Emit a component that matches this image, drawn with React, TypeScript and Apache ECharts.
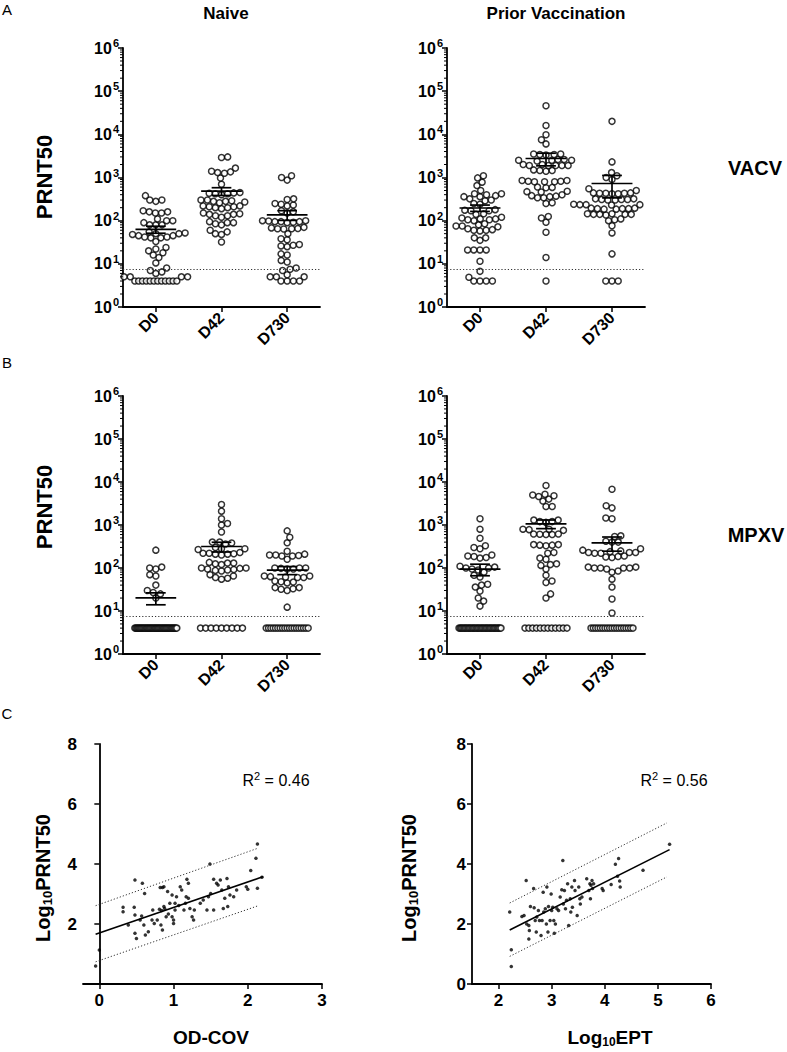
import React, { useEffect, useRef } from 'react';
import * as echarts from 'echarts';

const CATEGORIES = ['D0', 'D42', 'D730'];
const LOG_TICKS = [1, 10, 100, 1000, 10000, 100000, 1000000];
const LOD_VALUE = 7.4;

// Panel A – VACV PRNT50, naive
const vacvNaiveD0 = [380, 300, 280, 300, 170, 160, 160, 150, 150, 110, 100, 100, 90, 80, 80, 80, 55, 52, 50, 50, 48, 45, 42, 42, 40, 40, 45, 33, 24, 22, 20, 18, 16, 14, 10.5, 8, 7, 6, 6.5, 5, 5, 5, 5, 4, 4, 4, 4, 4, 4, 4, 4, 4, 4, 4, 4];
const vacvNaiveD42 = [3000, 2900, 1650, 1400, 1300, 1250, 1350, 970, 700, 450, 430, 420, 400, 420, 440, 300, 290, 280, 270, 280, 260, 300, 220, 210, 200, 200, 210, 190, 220, 150, 140, 130, 130, 140, 120, 145, 95, 90, 85, 90, 80, 60, 50, 48, 55, 32];
const vacvNaiveD730 = [1100, 1000, 870, 320, 310, 240, 230, 220, 250, 170, 160, 150, 100, 95, 95, 90, 100, 95, 92, 98, 68, 65, 65, 70, 66, 64, 50, 36, 38, 28, 26, 25, 27, 16, 17, 11, 12, 8, 7.5, 7, 5.6, 5, 5, 5, 4, 4, 4, 4];
// Panel A – VACV PRNT50, prior vaccination
const vacvPriorD0 = [1100, 980, 780, 650, 500, 420, 420, 400, 380, 360, 360, 320, 300, 290, 250, 240, 180, 175, 170, 170, 145, 140, 120, 110, 105, 100, 110, 105, 115, 80, 75, 75, 72, 85, 65, 60, 58, 62, 60, 40, 35, 40, 21, 21, 21, 21, 11.5, 6.7, 4.9, 4, 4, 4, 4];
const vacvPriorD42 = [46000, 16000, 9800, 7500, 6000, 3500, 3400, 3300, 3400, 3500, 2600, 2500, 2500, 2600, 2500, 2400, 2000, 1900, 1900, 1900, 1900, 2000, 1900, 1500, 1450, 1450, 1400, 850, 820, 800, 800, 800, 820, 850, 600, 590, 580, 480, 470, 460, 400, 360, 340, 340, 370, 380, 260, 250, 125, 115, 92, 54, 14, 4];
const vacvPriorD730 = [20000, 2300, 1300, 1100, 1000, 900, 500, 550, 440, 430, 420, 430, 440, 430, 420, 320, 310, 300, 310, 300, 310, 320, 240, 235, 230, 235, 240, 235, 195, 190, 185, 190, 190, 185, 195, 145, 140, 140, 135, 140, 140, 145, 110, 105, 100, 76, 52, 17, 4, 4, 4];
// Panel B – MPXV PRNT50, naive
const mpxvNaiveD0 = [260, 105, 95, 100, 65, 70, 40, 27, 30, 25, 20, 4, 4, 4, 4, 4, 4, 4, 4, 4, 4, 4, 4, 4, 4, 4, 4, 4, 4, 4, 4, 4, 4, 4, 4, 4, 4, 4, 4, 4, 4, 4, 4, 4, 4, 4, 4, 4, 4];
const mpxvNaiveD42 = [3000, 2100, 1400, 1080, 1000, 690, 400, 380, 360, 400, 300, 280, 280, 270, 220, 210, 215, 210, 230, 220, 200, 130, 125, 130, 120, 135, 100, 95, 90, 88, 85, 92, 98, 100, 70, 60, 55, 58, 65, 4, 4, 4, 4, 4, 4, 4, 4, 4];
const mpxvNaiveD730 = [730, 520, 385, 245, 200, 190, 200, 210, 190, 195, 160, 100, 95, 100, 98, 95, 100, 65, 60, 63, 62, 60, 65, 50, 47, 45, 48, 35, 32, 30, 33, 35, 12.3, 4, 4, 4, 4, 4, 4, 4, 4, 4, 4, 4, 4, 4, 4, 4, 4, 4, 4, 4];
// Panel B – MPXV PRNT50, prior vaccination
const mpxvPriorD0 = [1400, 800, 490, 330, 280, 300, 200, 185, 170, 175, 190, 110, 100, 95, 90, 100, 105, 80, 68, 62, 40, 36, 42, 29, 20, 17, 13, 4, 4, 4, 4, 4, 4, 4, 4, 4, 4, 4, 4, 4, 4, 4, 4, 4, 4, 4, 4, 4, 4, 4, 4, 4, 4, 4, 4, 4, 4, 4, 4, 4];
const mpxvPriorD42 = [8300, 5000, 4600, 3600, 4000, 4800, 5200, 2700, 2700, 1300, 1200, 1150, 1200, 1300, 800, 750, 800, 780, 620, 600, 600, 620, 610, 350, 340, 330, 340, 350, 230, 220, 170, 160, 120, 115, 125, 95, 68, 50, 46, 25, 20, 4, 4, 4, 4, 4, 4, 4, 4, 4, 4, 4, 4];
const mpxvPriorD730 = [6800, 2800, 2500, 1450, 1400, 560, 540, 400, 420, 400, 230, 230, 220, 240, 230, 220, 250, 280, 260, 180, 190, 175, 185, 105, 100, 95, 100, 100, 105, 100, 85, 80, 55, 36, 19, 9, 4, 4, 4, 4, 4, 4, 4, 4, 4, 4, 4, 4, 4, 4, 4, 4, 4, 4, 4];

// Panel C – correlations [x, log10 PRNT50]
const odcovPairs = [[-0.05, 0.6], [0, 1.13], [0.32, 2.56], [0.32, 2.41], [0.39, 1.97], [0.47, 2.56], [0.48, 3.47], [0.48, 2.3], [0.48, 1.69], [0.5, 1.52], [0.55, 2.13], [0.57, 2.27], [0.58, 3.36], [0.61, 3.02], [0.6, 1.97], [0.62, 1.63], [0.66, 1.74], [0.71, 2.13], [0.72, 2.47], [0.74, 2.02], [0.78, 2.13], [0.81, 2.49], [0.82, 3.22], [0.85, 3.22], [0.87, 3.24], [0.83, 1.97], [0.85, 1.8], [0.87, 2.58], [0.9, 2.24], [0.92, 3.08], [0.95, 2.69], [0.98, 2.97], [0.98, 2.24], [1.0, 2.13], [1.0, 2.02], [1.02, 2.69], [1.04, 2.91], [1.02, 2.47], [1.09, 3.24], [1.11, 3.13], [1.14, 2.47], [1.16, 2.69], [1.18, 3.49], [1.2, 3.36], [1.17, 2.91], [1.2, 2.86], [1.22, 2.52], [1.25, 2.24], [1.27, 2.13], [1.28, 2.47], [1.36, 2.69], [1.4, 2.8], [1.45, 2.47], [1.47, 2.91], [1.49, 4.0], [1.5, 3.02], [1.54, 3.49], [1.54, 2.47], [1.58, 3.36], [1.6, 3.3], [1.63, 3.47], [1.65, 3.13], [1.67, 2.52], [1.69, 2.86], [1.72, 3.52], [1.74, 3.24], [1.73, 2.58], [1.76, 2.97], [1.81, 2.91], [1.85, 3.13], [1.98, 3.24], [2.0, 3.16], [2.04, 3.78], [2.11, 4.19], [2.13, 4.67], [2.13, 3.19], [2.19, 3.56], [0.84, 2.45], [0.88, 2.52], [1.07, 2.62], [0.93, 2.33]];
const eptPairs = [[2.21, 2.4], [2.24, 1.14], [2.24, 0.58], [2.44, 2.25], [2.48, 2.28], [2.52, 3.45], [2.53, 2.0], [2.57, 1.95], [2.58, 1.78], [2.57, 1.5], [2.6, 2.58], [2.66, 3.18], [2.67, 2.54], [2.69, 2.12], [2.71, 1.73], [2.72, 2.23], [2.75, 2.45], [2.77, 2.12], [2.8, 1.62], [2.82, 2.12], [2.84, 3.06], [2.85, 2.4], [2.88, 2.51], [2.9, 2.0], [2.91, 3.23], [2.93, 1.73], [2.94, 2.58], [2.97, 2.12], [2.99, 3.0], [3.0, 2.45], [3.02, 2.56], [3.04, 2.12], [3.05, 1.69], [3.07, 2.0], [3.1, 2.51], [3.13, 2.45], [3.16, 2.9], [3.19, 3.14], [3.21, 4.12], [3.22, 2.67], [3.24, 3.12], [3.26, 2.51], [3.28, 2.79], [3.3, 3.34], [3.32, 1.95], [3.35, 2.84], [3.36, 2.4], [3.38, 3.23], [3.39, 2.56], [3.43, 3.45], [3.44, 3.12], [3.48, 2.28], [3.51, 3.23], [3.53, 2.84], [3.54, 2.67], [3.57, 2.9], [3.66, 3.51], [3.7, 3.12], [3.72, 3.34], [3.73, 2.84], [3.74, 3.29], [3.76, 3.45], [3.77, 3.18], [3.79, 3.34], [3.95, 3.18], [3.97, 3.12], [4.12, 3.32], [4.2, 3.99], [4.24, 3.59], [4.26, 4.18], [4.28, 3.43], [4.29, 3.23], [4.72, 3.79], [5.22, 4.66]];
const odcovFit = [[-0.05, 1.66], [2.21, 3.58]];
const odcovUpper = [[-0.05, 2.61], [2.13, 4.52]];
const odcovLower = [[-0.05, 0.74], [2.13, 2.6]];
const eptFit = [[2.21, 1.8], [5.22, 4.48]];
const eptUpper = [[2.21, 2.7], [5.17, 5.37]];
const eptLower = [[2.21, 0.92], [5.17, 3.57]];
const R2_ODCOV = '0.46';
const R2_EPT = '0.56';

const FONT = "'Liberation Sans', Arial, Helvetica, sans-serif";

const MINOR_TICKS: number[] = [];
for (let e = 0; e < 6; e++) for (let k = 2; k <= 9; k++) MINOR_TICKS.push(k * Math.pow(10, e));

function meanSem(arr: number[]) {
  const n = arr.length;
  const m = arr.reduce((a, b) => a + b, 0) / n;
  const sd = Math.sqrt(arr.reduce((a, b) => a + (b - m) * (b - m), 0) / (n - 1));
  return [m, sd / Math.sqrt(n)];
}

function swarm(values: number[], pxCat: number, pxDec: number, d: number, maxHalf: number) {
  const sorted = [...values].sort((a, b) => a - b);
  const placed: { x: number; y: number }[] = [];
  const out: number[][] = [];
  let toggle = 1;
  let i = 0;
  while (i < sorted.length) {
    let j = i;
    while (j < sorted.length && sorted[j] === sorted[i]) j++;
    const n = j - i;
    const v = sorted[i];
    const y = Math.log10(v) * pxDec;
    if ((n - 1) * d > 2 * maxHalf) {
      const sp = (2 * maxHalf) / (n - 1);
      for (let k = 0; k < n; k++) {
        const x = -maxHalf + k * sp;
        placed.push({ x, y });
        out.push([x / pxCat, v]);
      }
    } else {
      for (let k = 0; k < n; k++) {
        const near = placed.filter((p) => Math.abs(p.y - y) < d);
        const cands = [0];
        near.forEach((p) => {
          const w = Math.sqrt(d * d - (p.y - y) * (p.y - y));
          cands.push(p.x - w, p.x + w);
        });
        const ok = cands.filter((c) => near.every((p) => (p.x - c) * (p.x - c) + (p.y - y) * (p.y - y) >= d * d - 1e-6));
        ok.sort((a, b) => Math.abs(a) - Math.abs(b) || (a - b) * toggle);
        const x = ok[0];
        toggle = -toggle;
        placed.push({ x, y });
        out.push([x / pxCat, v]);
      }
    }
    i = j;
  }
  return out;
}

const AXIS_LINE = { show: true, lineStyle: { color: '#000', width: 1.8 } };
const TICK_STYLE = { color: '#000', width: 1.5 };

const supRich = {
  b: { fontSize: 16, fontWeight: 'bold', fontFamily: FONT, color: '#000' },
  s: { fontSize: 11, fontWeight: 'bold', fontFamily: FONT, color: '#000', padding: [0, 0, 10, 1] },
};

function buildOption() {
  const grids = [
    { left: 123, top: 48, width: 197, height: 259 },
    { left: 447, top: 48, width: 198, height: 259 },
    { left: 123, top: 396, width: 197, height: 258 },
    { left: 447, top: 396, width: 198, height: 258 },
    { left: 83, top: 744, width: 239, height: 240 },
    { left: 472, top: 744, width: 239, height: 240 },
  ];
  const dotGroups = [
    [vacvNaiveD0, vacvNaiveD42, vacvNaiveD730],
    [vacvPriorD0, vacvPriorD42, vacvPriorD730],
    [mpxvNaiveD0, mpxvNaiveD42, mpxvNaiveD730],
    [mpxvPriorD0, mpxvPriorD42, mpxvPriorD730],
  ];
  const xAxis: any[] = [];
  const yAxis: any[] = [];
  const series: any[] = [];

  dotGroups.forEach((groups, gi) => {
    const g = grids[gi];
    const pxCat = g.width / 3;
    const pxDec = g.height / 6;
    const pts: number[][] = [];
    groups.forEach((arr, c) => {
      swarm(arr, pxCat, pxDec, 6.2, 21).forEach(([dx, v]) => pts.push([c + dx, v]));
    });
    const stats = groups.map((arr, c) => {
      const [m, s] = meanSem(arr);
      return [c, m, m - s, m + s];
    });
    xAxis.push({
      type: 'category', gridIndex: gi, data: CATEGORIES, boundaryGap: true, position: 'bottom',
      axisLine: AXIS_LINE,
      axisTick: { show: true, alignWithLabel: true, length: 5, lineStyle: TICK_STYLE },
      axisLabel: { rotate: 45, fontWeight: 'bold', fontSize: 16, color: '#000', fontFamily: FONT, margin: 8, interval: 0 },
      splitLine: { show: false },
    });
    xAxis.push({ type: 'value', gridIndex: gi, min: -0.5, max: 2.5, show: false, position: 'bottom' });
    yAxis.push({
      type: 'log', logBase: 10, gridIndex: gi, min: 1, max: 1000000, position: 'left',
      axisLine: { ...AXIS_LINE, onZero: false },
      axisTick: { show: true, length: 5, lineStyle: TICK_STYLE, customValues: LOG_TICKS },
      axisLabel: {
        customValues: LOG_TICKS, margin: 4,
        formatter: (v: number) => `{b|10}{s|${Math.round(Math.log10(v))}}`,
        rich: supRich,
      },
      splitLine: { show: false },
      minorTick: { show: false },
    });
    series.push({
      type: 'scatter', xAxisIndex: gi * 2 + 1, yAxisIndex: gi, data: pts,
      symbol: 'circle', symbolSize: 6,
      itemStyle: { color: '#fff', borderColor: '#000', borderWidth: 1.5 },
      z: 2,
      markLine: {
        silent: true, symbol: 'none', label: { show: false },
        lineStyle: { color: '#333', width: 1, type: [1.2, 2] },
        data: [{ yAxis: LOD_VALUE }],
      },
    });
    // minor log ticks on the y axis (2..9 × 10^n), placed through the axis scale
    series.push({
      type: 'custom', xAxisIndex: gi * 2 + 1, yAxisIndex: gi, silent: true,
      data: MINOR_TICKS.map((v) => [-0.5, v]),
      encode: { x: 0, y: 1 }, z: 6,
      renderItem: (params: any, api: any) => {
        const p = api.coord([api.value(0), api.value(1)]);
        return {
          type: 'line',
          shape: { x1: p[0] - 3, y1: p[1], x2: p[0], y2: p[1] },
          style: { stroke: '#000', lineWidth: 1 },
        };
      },
    });
    series.push({
      type: 'custom', xAxisIndex: gi * 2 + 1, yAxisIndex: gi, data: stats,
      encode: { x: 0, y: [1, 2, 3] }, z: 5,
      renderItem: (params: any, api: any) => {
        const x = api.value(0), m = api.value(1), lo = api.value(2), hi = api.value(3);
        const a = api.coord([x - 0.31, m]), b = api.coord([x + 0.31, m]);
        const t = api.coord([x, hi]), bo = api.coord([x, lo]);
        const c1 = api.coord([x - 0.15, hi]), c2 = api.coord([x + 0.15, hi]);
        const c3 = api.coord([x - 0.15, lo]), c4 = api.coord([x + 0.15, lo]);
        const style = { stroke: '#000', lineWidth: 1.7 };
        return {
          type: 'group',
          children: [
            { type: 'line', shape: { x1: a[0], y1: a[1], x2: b[0], y2: b[1] }, style },
            { type: 'line', shape: { x1: t[0], y1: t[1], x2: bo[0], y2: bo[1] }, style },
            { type: 'line', shape: { x1: c1[0], y1: c1[1], x2: c2[0], y2: c2[1] }, style },
            { type: 'line', shape: { x1: c3[0], y1: c3[1], x2: c4[0], y2: c4[1] }, style },
          ],
        };
      },
    });
  });

  const corr = [
    { gi: 4, xmin: -0.22, xmax: 3, xt: [0, 1, 2, 3], yt: [2, 4, 6, 8], pts: odcovPairs, fit: odcovFit, up: odcovUpper, lo: odcovLower },
    { gi: 5, xmin: 1.5, xmax: 6, xt: [2, 3, 4, 5, 6], yt: [0, 2, 4, 6, 8], pts: eptPairs, fit: eptFit, up: eptUpper, lo: eptLower },
  ];
  corr.forEach((c, k) => {
    const xi = 8 + k, yi = 4 + k;
    xAxis.push({
      type: 'value', gridIndex: c.gi, min: c.xmin, max: c.xmax, position: 'bottom',
      axisLine: { ...AXIS_LINE, onZero: false },
      axisTick: { show: true, length: 5, lineStyle: TICK_STYLE, customValues: c.xt },
      axisLabel: { customValues: c.xt, fontSize: 17, fontWeight: 'bold', color: '#000', fontFamily: FONT, margin: 8 },
      splitLine: { show: false },
    });
    yAxis.push({
      type: 'value', gridIndex: c.gi, min: 0, max: 8, position: 'left',
      axisLine: { ...AXIS_LINE, onZero: true },
      axisTick: { show: true, length: 5, lineStyle: TICK_STYLE, customValues: c.yt },
      axisLabel: { customValues: c.yt, fontSize: 17, fontWeight: 'bold', color: '#000', fontFamily: FONT, margin: 6 },
      splitLine: { show: false },
    });
    series.push({
      type: 'scatter', xAxisIndex: xi, yAxisIndex: yi, data: c.pts, symbol: 'circle', symbolSize: 3.5,
      itemStyle: { color: '#000' }, z: 3,
    });
    series.push({
      type: 'line', xAxisIndex: xi, yAxisIndex: yi, data: c.fit, showSymbol: false, symbol: 'none',
      lineStyle: { color: '#000', width: 1.6 }, z: 4,
    });
    [c.up, c.lo].forEach((band) => {
      series.push({
        type: 'line', xAxisIndex: xi, yAxisIndex: yi, data: band, showSymbol: false, symbol: 'none',
        lineStyle: { color: '#333', width: 1, type: [1.2, 2] }, z: 4,
      });
    });
  });

  const txt = (text: string, x: number, y: number, size: number, bold: boolean, rotate = 0, rich?: any) => ({
    type: 'text', x, y, rotation: rotate,
    style: {
      text, fill: '#000', font: `${bold ? 'bold ' : ''}${size}px ${FONT}`,
      align: 'center', verticalAlign: 'middle', rich,
    },
  });
  const subRich = (size: number) => ({
    a: { fontSize: size, fontWeight: 'bold', fontFamily: FONT, color: '#000' },
    sub: { fontSize: Math.round(size * 0.65), fontWeight: 'bold', fontFamily: FONT, color: '#000', padding: [9, 0, 0, 0] },
  });
  const r2Rich = {
    r: { fontSize: 16, fontFamily: FONT, color: '#000' },
    s: { fontSize: 11, fontFamily: FONT, color: '#000', padding: [0, 0, 9, 0] },
  };

  const graphic = [
    txt('A', 7, 9, 15, false),
    txt('B', 7, 362, 15, false),
    txt('C', 7, 713, 15, false),
    txt('Naive', 226, 13, 17, true),
    txt('Prior Vaccination', 556, 13, 17, true),
    txt('PRNT50', 44, 177, 22, true, Math.PI / 2),
    txt('PRNT50', 44, 507, 22, true, Math.PI / 2),
    txt('VACV', 755, 168, 20, true),
    txt('MPXV', 756, 535, 20, true),
    txt('{a|Log}{sub|10}{a|PRNT50}', 43, 878, 20, true, Math.PI / 2, subRich(20)),
    txt('{a|Log}{sub|10}{a|PRNT50}', 409, 878, 20, true, Math.PI / 2, subRich(20)),
    txt('OD-COV', 211, 1037, 19, true),
    txt('{a|Log}{sub|10}{a|EPT}', 610, 1037, 19, true, 0, subRich(19)),
    txt(`{r|R}{s|2}{r| = ${R2_ODCOV}}`, 276, 780, 16, false, 0, r2Rich),
    txt(`{r|R}{s|2}{r| = ${R2_EPT}}`, 674, 780, 16, false, 0, r2Rich),
  ];

  return {
    animation: false,
    backgroundColor: '#fff',
    textStyle: { fontFamily: FONT },
    grid: grids.map((g) => ({ ...g, containLabel: false })),
    xAxis,
    yAxis,
    series,
    graphic,
  };
}

export default function App() {
  const ref = useRef<HTMLDivElement>(null);
  useEffect(() => {
    if (!ref.current) return;
    const chart = echarts.init(ref.current, undefined, { renderer: 'svg' });
    chart.setOption(buildOption() as any);
    return () => chart.dispose();
  }, []);
  return (
    <div
      ref={ref}
      style={{ position: 'absolute', left: 0, top: 0, width: 787, height: 1052, background: '#fff' }}
    />
  );
}
